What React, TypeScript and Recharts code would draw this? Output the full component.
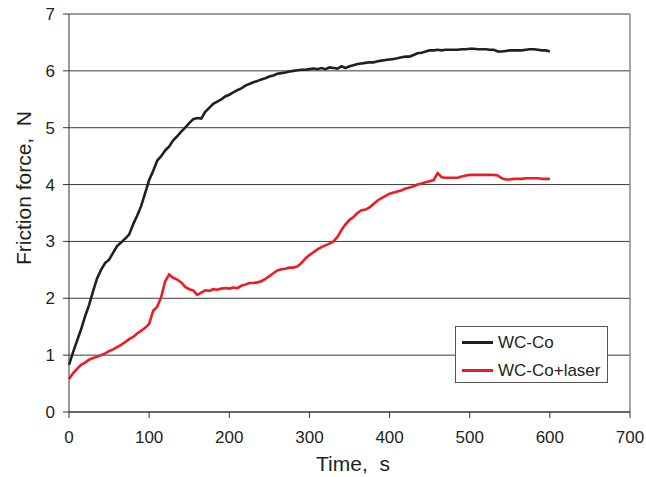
import React from 'react';
import { LineChart, Line, XAxis, YAxis, CartesianGrid, Legend, ReferenceLine } from 'recharts';

const times: number[] = [];
for (let t = 0; t <= 600; t += 5) times.push(t);

const wcCo: number[] = [
  0.83, 1.05, 1.25, 1.45, 1.68, 1.88, 2.12, 2.35, 2.5, 2.62,
  2.68, 2.8, 2.92, 2.98, 3.05, 3.12, 3.3, 3.45, 3.62, 3.85,
  4.08, 4.24, 4.42, 4.5, 4.6, 4.67, 4.78, 4.85, 4.93, 5.0,
  5.08, 5.15, 5.17, 5.16, 5.28, 5.35, 5.42, 5.46, 5.5, 5.55,
  5.58, 5.62, 5.66, 5.69, 5.74, 5.77, 5.8, 5.82, 5.85, 5.87,
  5.9, 5.92, 5.95, 5.96, 5.97, 5.99, 6.0, 6.01, 6.02, 6.02,
  6.03, 6.04, 6.03, 6.05, 6.03, 6.06, 6.05, 6.04, 6.08, 6.05,
  6.08, 6.1, 6.12, 6.13, 6.14, 6.15, 6.15, 6.17, 6.18, 6.19,
  6.2, 6.21, 6.22, 6.24, 6.25, 6.25, 6.28, 6.31, 6.32, 6.34,
  6.36, 6.36, 6.37, 6.36, 6.37, 6.37, 6.37, 6.37, 6.38, 6.38,
  6.39, 6.39, 6.38, 6.38, 6.38, 6.37, 6.37, 6.34, 6.34, 6.35,
  6.36, 6.36, 6.36, 6.36, 6.37, 6.38, 6.38, 6.37, 6.36, 6.36,
  6.34,
];

const wcCoLaser: number[] = [
  0.58, 0.68, 0.76, 0.83, 0.87, 0.92, 0.95, 0.97, 1.0, 1.03,
  1.07, 1.1, 1.14, 1.18, 1.23, 1.28, 1.32, 1.38, 1.43, 1.48,
  1.55, 1.78, 1.85, 2.02, 2.3, 2.42, 2.36, 2.33, 2.28, 2.2,
  2.16, 2.14, 2.06, 2.1, 2.14, 2.13, 2.16, 2.15, 2.17, 2.18,
  2.17, 2.19, 2.18, 2.22, 2.24, 2.27, 2.27, 2.28, 2.3, 2.34,
  2.39, 2.44, 2.49, 2.51, 2.52, 2.54, 2.54, 2.56, 2.62, 2.7,
  2.76, 2.81, 2.86, 2.9, 2.93, 2.96, 3.0, 3.08, 3.2, 3.3,
  3.38, 3.43, 3.5, 3.55, 3.56, 3.6, 3.66, 3.72, 3.76, 3.8,
  3.84, 3.86, 3.88, 3.9, 3.93, 3.95, 3.97, 4.0, 4.02, 4.04,
  4.06, 4.08, 4.2, 4.13, 4.12, 4.12, 4.12, 4.12, 4.14, 4.16,
  4.17, 4.17, 4.17, 4.17, 4.17, 4.17, 4.17, 4.16, 4.11, 4.09,
  4.09, 4.1, 4.1, 4.1, 4.11, 4.11, 4.11, 4.11, 4.1, 4.1,
  4.1,
];

const xTicks = [0, 100, 200, 300, 400, 500, 600, 700];
const yTicks = [0, 1, 2, 3, 4, 5, 6, 7];
const seriesNames = ['WC-Co', 'WC-Co+laser'];
const seriesColors = ['#231f20', '#ed1c24'];

const data = times.map((t, i) => ({ t, a: wcCo[i], b: wcCoLaser[i] }));

const FONT = 'Liberation Sans, Arial, sans-serif';

const LegendBox = () => (
  <div
    style={{
      width: 153,
      height: 57,
      border: '1px solid #555',
      background: '#fff',
      boxSizing: 'border-box',
      fontFamily: FONT,
      fontSize: 17,
      color: '#231f20',
      paddingTop: 4,
    }}
  >
    {seriesNames.map((n, i) => (
      <div key={n} style={{ display: 'flex', alignItems: 'center', height: 23, marginTop: i === 0 ? 0 : 5 }}>
        <div style={{ width: 31, height: 3, background: seriesColors[i], marginLeft: 6, marginRight: 5 }} />
        <span>{n}</span>
      </div>
    ))}
  </div>
);

export default function App() {
  return (
    <div style={{ position: 'absolute', left: 0, top: 0, background: '#fff' }}>
      <LineChart width={646} height={477} data={data} margin={{ top: 14, right: 16, left: 29, bottom: 35 }}>
        <CartesianGrid horizontal vertical={false} stroke="#3a3a3a" strokeWidth={1} />
        <ReferenceLine x={700} stroke="#888" strokeWidth={1.5} />
        <XAxis
          dataKey="t"
          type="number"
          domain={[0, 700]}
          ticks={xTicks}
          height={30}
          tickSize={6}
          tickMargin={13}
          interval={0}
          stroke="#333"
          tick={{ fill: '#231f20', fontSize: 17, fontFamily: FONT }}
          label={{
            content: () => (
              <text x={353} y={471} textAnchor="middle" fontSize={21} fontFamily={FONT} fill="#231f20">
                Time,{'\u00a0\u00a0'}s
              </text>
            ),
          }}
        />
        <YAxis
          type="number"
          domain={[0, 7]}
          ticks={yTicks}
          width={40}
          tickSize={6}
          tickMargin={8}
          interval={0}
          stroke="#333"
          tick={{ fill: '#231f20', fontSize: 17, fontFamily: FONT }}
          label={{
            content: () => (
              <text
                x={31}
                y={188}
                textAnchor="middle"
                fontSize={21}
                fontFamily={FONT}
                fill="#231f20"
                transform="rotate(-90 31 188)"
              >
                Friction force,{'\u00a0\u00a0'}N
              </text>
            ),
          }}
        />
        <Line type="linear" dataKey="a" name={seriesNames[0]} stroke={seriesColors[0]} strokeWidth={2.6} dot={false} isAnimationActive={false} />
        <Line type="linear" dataKey="b" name={seriesNames[1]} stroke={seriesColors[1]} strokeWidth={2.6} dot={false} isAnimationActive={false} />
        <Legend
          verticalAlign="middle"
          align="center"
          layout="horizontal"
          content={() => <LegendBox />}
          wrapperStyle={{ position: 'absolute', left: 455, top: 326, width: 153, height: 57 }}
        />
      </LineChart>
    </div>
  );
}
